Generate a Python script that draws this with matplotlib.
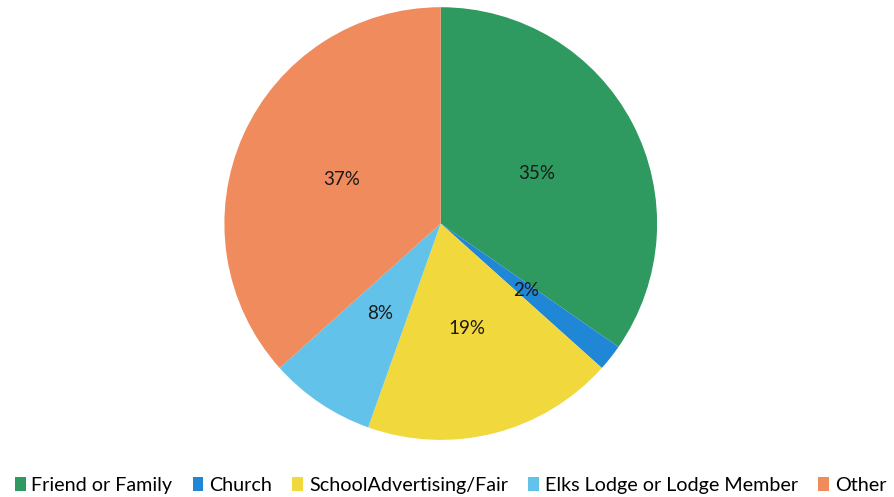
import matplotlib.pyplot as plt
from matplotlib.patches import Patch

plt.rcParams['font.family'] = ['Lato', 'DejaVu Sans']

# data
sources = ['Friend or Family', 'Church', 'SchoolAdvertising/Fair',
           'Elks Lodge or Lodge Member', 'Other']
shares = [35, 2, 19, 8, 37]
pct_labels = ['35%', '2%', '19%', '8%', '37%']
colors = ['#2f9a5f', '#1f87d5', '#f1d83d', '#63c2ea', '#ef8b5d']

fig = plt.figure(figsize=(8.94, 4.97), dpi=100)
ax = fig.add_axes([0.251, 0.1147, 0.484, 0.871])

wedges, texts = ax.pie(shares, labels=pct_labels, colors=colors,
                       startangle=90, counterclock=False,
                       labeldistance=0.5,
                       wedgeprops={'linewidth': 0})
for t in texts:
    t.set_ha('center')
    t.set_va('center')
    t.set_fontsize(13.5)
    t.set_color('#1a1a1a')
ax.set_xlim(-1, 1)
ax.set_ylim(-1, 1)
ax.set_aspect('equal')

handles = [Patch(facecolor=c, edgecolor='none') for c in colors]
fig.legend(handles, sources, loc='lower center', ncol=5, frameon=False,
           fontsize=14.2, handlelength=0.55, handleheight=0.7,
           handletextpad=0.3, columnspacing=1.02,
           bbox_to_anchor=(0.504, -0.03))

fig.savefig('out.png', dpi=100)
